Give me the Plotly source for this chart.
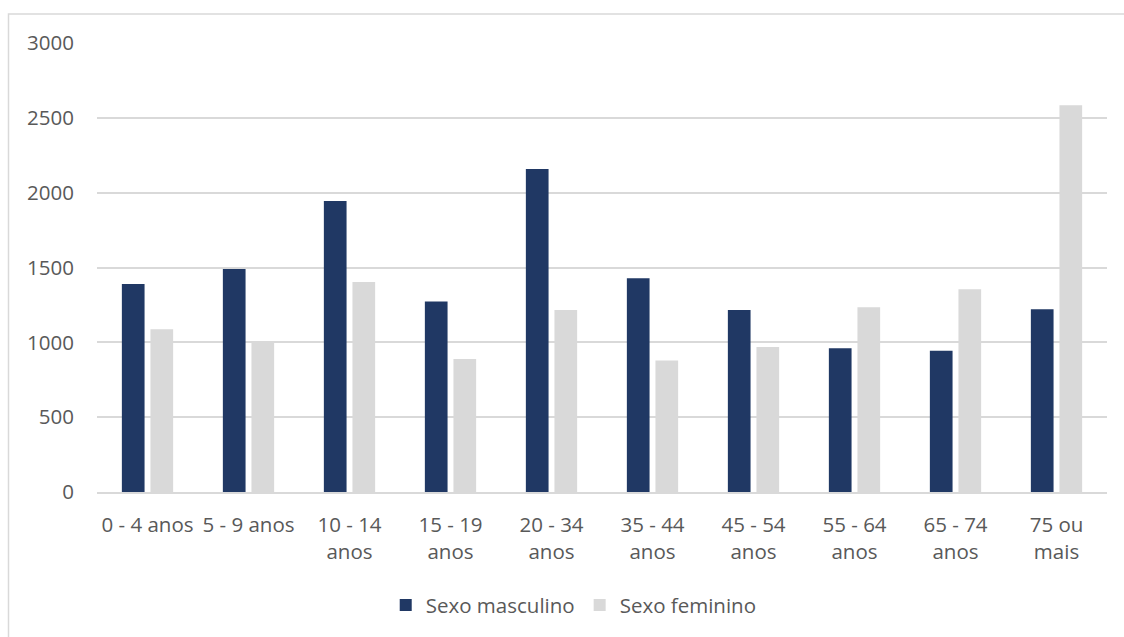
import plotly.graph_objects as go

# Age groups and the number of cases in each, by sex
age_groups = ["0 - 4 anos", "5 - 9 anos", "10 - 14 anos", "15 - 19 anos", "20 - 34 anos",
              "35 - 44 anos", "45 - 54 anos", "55 - 64 anos", "65 - 74 anos", "75 ou mais"]
tick_labels = ["0 - 4 anos", "5 - 9 anos", "10 - 14<br>anos", "15 - 19<br>anos", "20 - 34<br>anos",
               "35 - 44<br>anos", "45 - 54<br>anos", "55 - 64<br>anos", "65 - 74<br>anos", "75 ou<br>mais"]
masculino = [1390, 1490, 1945, 1272, 2158, 1428, 1216, 961, 943, 1221]
feminino = [1088, 1009, 1403, 889, 1216, 878, 969, 1234, 1354, 2584]

y_ticks = [0, 500, 1000, 1500, 2000, 2500, 3000]

NAVY = "#203864"
LIGHT = "#d9d9d9"
TEXT = "#595959"
FONT = "Open Sans"

fig = go.Figure()
fig.add_trace(go.Bar(x=age_groups, y=masculino, name="Sexo masculino",
                     marker=dict(color=NAVY, line=dict(width=0))))
fig.add_trace(go.Bar(x=age_groups, y=feminino, name="Sexo feminino",
                     marker=dict(color=LIGHT, line=dict(width=0))))

fig.update_layout(
    width=1124, height=637,
    margin=dict(l=97, r=17, t=43, b=145),
    paper_bgcolor="white", plot_bgcolor="white",
    barmode="group", bargap=0.434, bargroupgap=0.206,
    font=dict(family=FONT, size=20.5, color=TEXT),
    showlegend=True,
    legend=dict(orientation="h", x=0.472, xanchor="center", y=-0.252, yanchor="middle",
                font=dict(family=FONT, size=20.5, color=TEXT),
                itemwidth=30, bgcolor="rgba(0,0,0,0)"),
    xaxis=dict(tickmode="array", tickvals=age_groups, ticktext=tick_labels,
               showgrid=False, showline=True, linecolor=LIGHT, linewidth=1.5,
               ticks="", tickfont=dict(family=FONT, size=20.5, color=TEXT),
               ticklabelstandoff=14),
    yaxis=dict(range=[0, 3000], tickmode="array", tickvals=y_ticks,
               showgrid=True, gridcolor=LIGHT, gridwidth=1.5,
               zeroline=False, showline=False, ticks="",
               tickfont=dict(family=FONT, size=20.5, color=TEXT),
               ticklabelstandoff=22),
)

# Light frame around the chart area
fig.add_shape(type="rect", xref="paper", yref="paper",
              x0=(8.5 - 97) / 1010, x1=1.03, y0=-0.4, y1=1 + (43 - 14) / 449,
              line=dict(color=LIGHT, width=1.5), fillcolor="rgba(0,0,0,0)", layer="below")

fig.write_html("out.html")
